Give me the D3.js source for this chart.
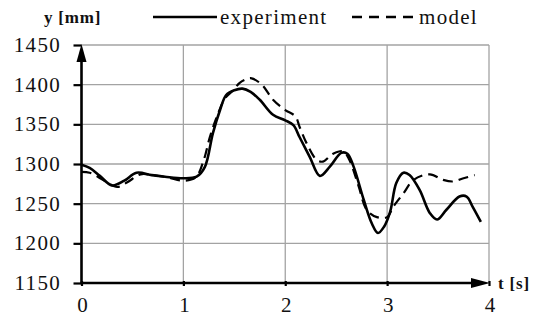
<!DOCTYPE html>
<html>
<head>
<meta charset="utf-8">
<script src="https://cdn.jsdelivr.net/npm/d3@7"></script>
<style>
  body { margin: 0; background: #fff; }
</style>
</head>
<body>
<svg id="canvas"></svg>
<script>
// values
let expTime = [0, 0.08, 0.18, 0.30, 0.42, 0.54, 0.69, 0.82, 1.0, 1.13, 1.21, 1.29, 1.36, 1.42, 1.5, 1.58, 1.66, 1.75, 1.88, 2.0, 2.08, 2.14, 2.24, 2.34, 2.44, 2.55, 2.61, 2.67, 2.77, 2.85, 2.91, 2.97, 3.03, 3.09, 3.16, 3.22, 3.32, 3.42, 3.49, 3.58, 3.71, 3.78, 3.84, 3.92]
let expValues = [1299, 1295, 1285, 1273, 1279, 1289, 1286, 1284, 1282, 1284, 1296, 1339, 1368, 1387, 1393, 1395, 1391, 1381, 1362, 1355, 1349, 1334, 1309, 1285, 1297, 1314, 1313, 1297, 1255, 1225, 1213, 1221, 1240, 1276, 1289, 1286, 1267, 1238, 1230, 1242, 1259, 1259, 1246, 1227]

let modelTime = [0, 0.08, 0.16, 0.26, 0.35, 0.45, 0.58, 0.7, 0.85, 1.0, 1.12, 1.2, 1.26, 1.33, 1.41, 1.49, 1.55, 1.62, 1.67, 1.77, 1.88, 2.0, 2.10, 2.14, 2.21, 2.31, 2.37, 2.47, 2.57, 2.63, 2.72, 2.80, 2.90, 3.0, 3.06, 3.16, 3.26, 3.42, 3.55, 3.65, 3.75, 3.86]
let modelValues = [1290, 1289, 1284, 1276, 1271, 1277, 1287, 1286, 1283, 1279, 1283, 1305, 1334, 1360, 1383, 1393, 1402, 1407, 1408, 1400, 1381, 1368, 1360, 1347, 1326, 1305, 1303, 1313, 1316, 1305, 1272, 1242, 1233, 1233, 1246, 1263, 1280, 1287, 1280, 1278, 1282, 1286]

let xTicks = [0, 1, 2, 3, 4]
let yTicks = [1150, 1200, 1250, 1300, 1350, 1400, 1450]
let seriesNames = ['experiment', 'model']

let width = 536
let height = 320
let font = 'Liberation Serif'

let svg = d3.select('#canvas')
  .attr('width', width)
  .attr('height', height)

let x = d3.scaleLinear().domain([0, 4]).range([81.5, 489])
let y = d3.scaleLinear().domain([1150, 1450]).range([283, 45])

// grid
svg.append('g')
  .selectAll('line')
  .data(yTicks.slice(1))
  .enter()
  .append('line')
  .attr('x1', x(0)).attr('x2', x(4))
  .attr('y1', d => y(d)).attr('y2', d => y(d))
  .attr('stroke', '#a3a3a3').attr('stroke-width', 1.3)

svg.append('g')
  .selectAll('line')
  .data(xTicks.slice(1))
  .enter()
  .append('line')
  .attr('x1', d => x(d)).attr('x2', d => x(d))
  .attr('y1', y(1150)).attr('y2', y(1450))
  .attr('stroke', '#a3a3a3').attr('stroke-width', 1.3)

// axes with d3 ticks
let yAxis = d3.axisLeft(y).tickValues(yTicks).tickSize(8).tickFormat('')
let gy = svg.append('g').attr('transform', `translate(${x(0)},0)`).call(yAxis)
gy.select('.domain').remove()
gy.selectAll('.tick line').attr('stroke', '#000').attr('stroke-width', 2.2)

let xAxis = d3.axisBottom(x).tickValues(xTicks).tickSize(5).tickFormat('')
let gx = svg.append('g').attr('transform', `translate(0,${y(1150) - 2})`).call(xAxis)
gx.select('.domain').remove()
gx.selectAll('.tick line').attr('stroke', '#000').attr('stroke-width', 2.2)

// tick labels
yTicks.forEach(v => {
  svg.append('text')
    .attr('x', 61).attr('y', y(v) + 7)
    .attr('text-anchor', 'end')
    .attr('font-family', font)
    .attr('font-size', 21)
    .attr('letter-spacing', 1.3)
    .attr('fill', '#111')
    .text(v)
})
xTicks.forEach(v => {
  svg.append('text')
    .attr('x', x(v) + 1).attr('y', 312)
    .attr('text-anchor', 'middle')
    .attr('font-family', font)
    .attr('font-size', 21)
    .attr('fill', '#111')
    .text(v)
})

// axis lines with arrowheads
svg.append('line')
  .attr('x1', x(0)).attr('x2', x(0))
  .attr('y1', y(1150) + 1).attr('y2', y(1450) + 14)
  .attr('stroke', '#000').attr('stroke-width', 2.6)
svg.append('path')
  .attr('d', `M${x(0)},${y(1450) - 1} L${x(0) - 5},${y(1450) + 17} L${x(0) + 5},${y(1450) + 17} Z`)
  .attr('fill', '#000')

svg.append('line')
  .attr('x1', x(0) - 1).attr('x2', x(4) - 14)
  .attr('y1', y(1150)).attr('y2', y(1150))
  .attr('stroke', '#000').attr('stroke-width', 2.6)
svg.append('path')
  .attr('d', `M${x(4) + 1},${y(1150)} L${x(4) - 18},${y(1150) - 5} L${x(4) - 18},${y(1150) + 5} Z`)
  .attr('fill', '#000')

// axis titles
svg.append('text')
  .attr('x', 44).attr('y', 23)
  .attr('font-family', font)
  .attr('font-size', 17).attr('font-weight', 'bold')
  .attr('letter-spacing', 0.8)
  .attr('fill', '#111')
  .text('y [mm]')
svg.append('text')
  .attr('x', 498).attr('y', 289)
  .attr('font-family', font)
  .attr('font-size', 17).attr('font-weight', 'bold')
  .attr('letter-spacing', 0.8)
  .attr('fill', '#111')
  .text('t [s]')

// curves
let line = d3.line()
  .x(d => x(d[0]))
  .y(d => y(d[1]))
  .curve(d3.curveCatmullRom.alpha(0.5))

let expPoints = expTime.map((t, i) => [t, expValues[i]])
let modelPoints = modelTime.map((t, i) => [t, modelValues[i]])

svg.append('path')
  .datum(modelPoints)
  .attr('d', line)
  .attr('fill', 'none')
  .attr('stroke', '#000')
  .attr('stroke-width', 2.2)
  .attr('stroke-dasharray', '10,6')

svg.append('path')
  .datum(expPoints)
  .attr('d', line)
  .attr('fill', 'none')
  .attr('stroke', '#000')
  .attr('stroke-width', 2.6)

// legend
let legend = svg.append('g')
legend.append('line')
  .attr('x1', 153).attr('x2', 217).attr('y1', 17).attr('y2', 17)
  .attr('stroke', '#000').attr('stroke-width', 2.6)
legend.append('text')
  .attr('x', 220).attr('y', 24)
  .attr('font-family', font)
  .attr('font-size', 21)
  .attr('letter-spacing', 1.3)
  .attr('fill', '#111')
  .text(seriesNames[0])
legend.append('line')
  .attr('x1', 352).attr('x2', 414).attr('y1', 17).attr('y2', 17)
  .attr('stroke', '#000').attr('stroke-width', 2.4)
  .attr('stroke-dasharray', '10,7')
legend.append('text')
  .attr('x', 419).attr('y', 24)
  .attr('font-family', font)
  .attr('font-size', 21)
  .attr('letter-spacing', 1.3)
  .attr('fill', '#111')
  .text(seriesNames[1])
</script>
</body>
</html>
